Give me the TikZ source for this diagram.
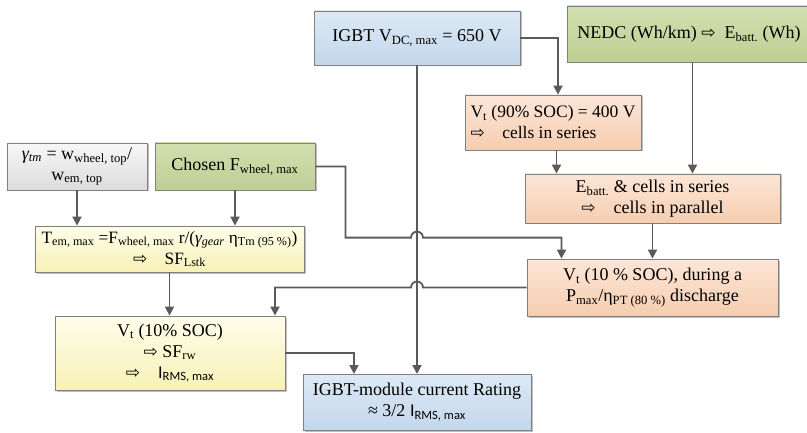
\documentclass[tikz,border=0pt]{standalone}
\usepackage{fontspec}
\setmainfont{Liberation Serif}
\setsansfont{Carlito}
\newfontfamily\arrowfont{DejaVu Sans}
\usetikzlibrary{arrows.meta, positioning, shadows, calc}

\definecolor{boxline}{HTML}{808080}
\definecolor{connline}{HTML}{5A5A5A}
\definecolor{bluetop}{HTML}{DDE9F5}
\definecolor{bluebot}{HTML}{C3D7EB}
\definecolor{greentop}{HTML}{D2DFB1}
\definecolor{greenbot}{HTML}{BDCF93}
\definecolor{orangetop}{HTML}{FCE6D8}
\definecolor{orangebot}{HTML}{F6CDAF}
\definecolor{yellowtop}{HTML}{FEFDEA}
\definecolor{yellowbot}{HTML}{F8F1B6}
\definecolor{graytop}{HTML}{F7F7F7}
\definecolor{graybot}{HTML}{DCDCDC}

\newcommand{\dn}[1]{\textsubscript{#1}}
\newcommand{\ra}{{\arrowfont\fontsize{17}{17}\selectfont ⇨}}

\begin{document}
\begin{tikzpicture}[x=1pt, y=1pt, font=\fontsize{18}{21}\selectfont,
    blockbox/.style={draw=boxline, line width=0.8pt, align=center, inner sep=3pt,
        drop shadow={shadow xshift=1.5pt, shadow yshift=-1.5pt, fill=black, opacity=0.25}},
    bluebox/.style={blockbox, top color=bluetop, bottom color=bluebot},
    greenbox/.style={blockbox, top color=greentop, bottom color=greenbot},
    orangebox/.style={blockbox, top color=orangetop, bottom color=orangebot},
    yellowbox/.style={blockbox, top color=yellowtop, bottom color=yellowbot},
    graybox/.style={blockbox, top color=graytop, bottom color=graybot},
    link/.style={draw=connline, line width=1.8pt},
    conn/.style={link, -{Triangle[length=9pt,width=9pt]}}]
    \clip (0,0) rectangle (807,432);

    % battery side
    \node[bluebox, minimum width=206, minimum height=54] (igbt) at (417,394) {IGBT V\dn{DC, max} = 650 V};
    \node[greenbox, anchor=west, minimum height=56, inner xsep=10pt, align=left] (nedc) at (567,398)
        {NEDC (Wh/km) \ra\ \ E\dn{batt.} (Wh)};
    \node[orangebox, minimum width=176, minimum height=55, inner xsep=1pt, align=left,
        font=\fontsize{17.5}{21}\selectfont] (vt90) at (553,309.5)
        {V\dn{t} (90\% SOC) = 400 V\\\ra\quad cells in series};
    \node[orangebox, minimum width=255, minimum height=49] (ebatt) at (652.5,233.5)
        {E\dn{batt.} \& cells in series\\\ra\quad cells in parallel};
    \node[orangebox, minimum width=251, minimum height=57] (vt10) at (652.5,144.5)
        {V\dn{t} (10 \% SOC), during a\\P\dn{max}/η\dn{PT (80 \%)} discharge};

    % machine side
    \node[graybox, minimum width=140, minimum height=47] (gamma) at (77,265.5)
        {{\itshape γ\dn{tm}} = w\dn{wheel, top}/\\w\dn{em, top}};
    \node[greenbox, minimum width=160, minimum height=47] (chosen) at (235,265.5) {Chosen F\dn{wheel, max}};
    \node[yellowbox, minimum width=269, minimum height=46, font=\fontsize{17.3}{21}\selectfont] (tem) at (169.5,183)
        {T\dn{em, max} =F\dn{wheel, max} r/({\itshape γ\dn{gear}} η\dn{Tm (95 \%)})\\\ra\quad SF\dn{Lstk}};
    \node[yellowbox, minimum width=230, minimum height=74] (sf) at (170,79)
        {V\dn{t} (10\% SOC)\\\ra\ SF\dn{rw}\\\ra\quad{\sffamily I\dn{RMS, max}}};
    \node[bluebox, anchor=north, minimum width=228, inner ysep=9pt] (module) at (417,58)
        {IGBT-module current Rating\\≈ 3/2 {\sffamily I\dn{RMS, max}}};

    \coordinate (ebin) at ([xshift=40pt]ebatt.north);
    \coordinate (ebin2) at ([xshift=-96pt]ebatt.north);
    \coordinate (vtin) at ([xshift=-91pt]vt10.north);
    \coordinate (sfin) at ([xshift=105pt]sf.north);
    \coordinate (hopA) at ($(igbt.south |- vtin)+(-6,21)$);
    \coordinate (hopB) at ($(igbt.south |- vt10.west)+(6,0)$);

    \draw[conn] (igbt.east) -| ([xshift=5pt]vt90.north);
    \draw[conn] (igbt.south) -- (module.north);
    \draw[conn] (nedc.south -| ebin) -- (ebin);
    \draw[conn] (vt90.south -| ebin2) -- (ebin2);
    \draw[conn] (ebatt.south) -- (vt10.north);
    \draw[conn] (chosen.east) -- ++(30,0) |- (hopA) arc[start angle=180, end angle=0, radius=6] -| (vtin);
    \draw[conn] (vt10.west) -- (hopB) arc[start angle=0, end angle=180, radius=6] -| (sfin);
    \draw[conn] (gamma.south) -- (gamma.south |- tem.north);
    \draw[conn] (chosen.south) -- (chosen.south |- tem.north);
    \draw[conn] (tem.south) -- (tem.south |- sf.north);
    \draw[conn] (sf.east) -| ([xshift=-63pt]module.north);
\end{tikzpicture}
\end{document}
